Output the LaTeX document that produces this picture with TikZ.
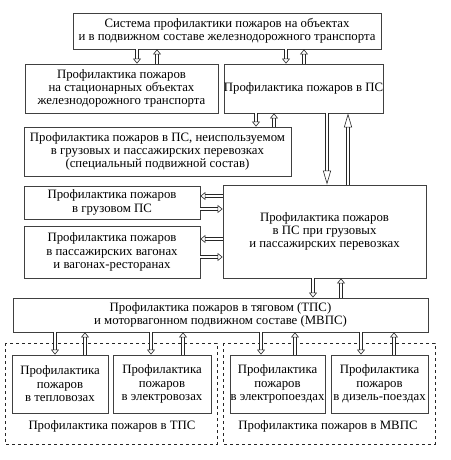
\documentclass[tikz,border=0pt]{standalone}
\usepackage{fontspec}
\setmainfont{Liberation Serif}
\usetikzlibrary{arrows.meta}
\tikzset{
  blok/.style={draw=black!75, line width=0.8pt, align=center, inner sep=0pt,
    font=\fontsize{12.8}{13.4}\selectfont},
  dbl/.style={draw=black!85, double, double distance=2.4pt, line width=0.6pt,
    -{Triangle[open, length=5pt, width=8pt]}},
  dbllong/.style={dbl, -{Triangle[open, length=14pt, width=8pt]}},
  grp/.style={draw=black!85, dashed, line width=0.7pt}
}
\begin{document}
\begin{tikzpicture}[x=1pt, y=-1pt]
   \useasboundingbox (0,0) rectangle (450,460);

   % upper levels
   \node[blok, minimum width=308pt, minimum height=36pt] (sys) at (227,31)
     {Система профилактики пожаров на объектах\\и в подвижном составе железнодорожного транспорта};
   \node[blok, minimum width=193pt, minimum height=49pt] (stat) at (121.5,88.5)
     {Профилактика пожаров\\на стационарных объектах\\железнодорожного транспорта};
   \node[blok, minimum width=153pt, minimum height=49pt] (ps) at (303.5,88.5)
     {Профилактика пожаров в ПС};
   \node[blok, minimum width=267pt, minimum height=49pt] (nonused) at (157.5,151.5)
     {Профилактика пожаров в ПС, неиспользуемом\\в грузовых и пассажирских перевозках\\(специальный подвижной состав)};

   % freight and passenger
   \node[blok, minimum width=176pt, minimum height=33pt] (gruz) at (112,202.5)
     {Профилактика пожаров\\в грузовом ПС};
   \node[blok, minimum width=176pt, minimum height=52pt] (pass) at (112,252)
     {Профилактика пожаров\\в пассажирских вагонах\\и вагонах-ресторанах};
   \node[blok, minimum width=203pt, minimum height=93pt] (perev) at (324.5,231.5)
     {Профилактика пожаров\\в ПС при грузовых\\и пассажирских перевозках};

   % traction stock
   \node[blok, minimum width=415pt, minimum height=34pt] (tps) at (220.5,315)
     {Профилактика пожаров в тяговом (ТПС)\\и моторвагонном подвижном составе (МВПС)};
   \draw[grp] (5,343) rectangle (217,444);
   \draw[grp] (223,343) rectangle (435,444);
   \node[blok, minimum width=96pt, minimum height=58pt] (teplo) at (60,384)
     {Профилактика\\пожаров\\в тепловозах};
   \node[blok, minimum width=98pt, minimum height=58pt] (elvoz) at (162,384)
     {Профилактика\\пожаров\\в электровозах};
   \node[blok, minimum width=95pt, minimum height=58pt] (elpoezd) at (277.5,384)
     {Профилактика\\пожаров\\в электропоездах};
   \node[blok, minimum width=97pt, minimum height=58pt] (dizel) at (379.5,384)
     {Профилактика\\пожаров\\в дизель-поездах};
   \node[font=\fontsize{12.8}{13.4}\selectfont] (tpslbl) at (112,426) {Профилактика пожаров в ТПС};
   \node[font=\fontsize{12.8}{13.4}\selectfont] (mvpslbl) at (328,426) {Профилактика пожаров в МВПС};

   % arrows
   \foreach \xd/\xu/\src/\dst in {137/157/sys/stat, 286/304/sys/ps, 256/274/ps/nonused,
       313/341/perev/tps, 55/85/tps/teplo, 151/183/tps/elvoz, 261/295/tps/elpoezd, 361/394/tps/dizel}{
     \draw[dbl] (\xd,0 |- \src.south) -- (\xd,0 |- \dst.north);
     \draw[dbl] (\xu,0 |- \dst.north) -- (\xu,0 |- \src.south);
   }
   \draw[dbllong] (327,0 |- ps.south) -- (327,0 |- perev.north);
   \draw[dbllong] (348,0 |- perev.north) -- (348,0 |- ps.south);
   \draw[dbl] (perev.west |- 0,196) -- (gruz.east |- 0,196);
   \draw[dbl] (gruz.east |- 0,209) -- (perev.west |- 0,209);
   \draw[dbl] (perev.west |- 0,239) -- (pass.east |- 0,239);
   \draw[dbl] (pass.east |- 0,257) -- (perev.west |- 0,257);
\end{tikzpicture}
\end{document}
